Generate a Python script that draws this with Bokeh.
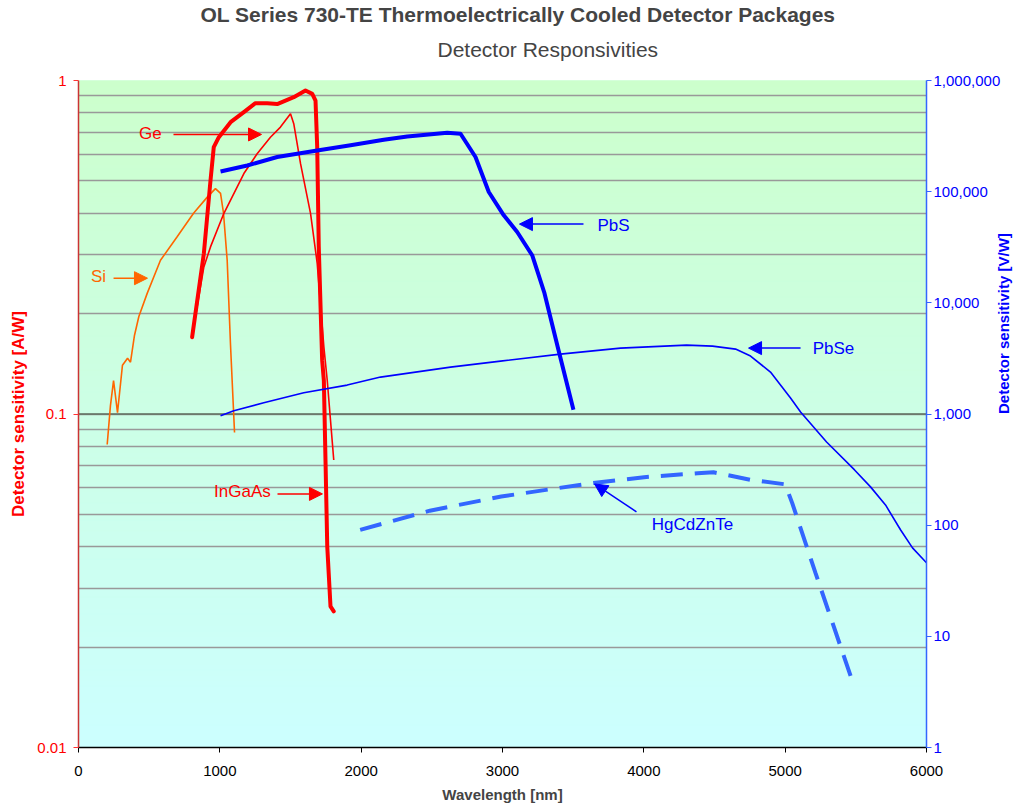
import math
from bokeh.plotting import figure
from bokeh.models import (Range1d, LogScale, LogAxis, FixedTicker, NumeralTickFormatter,
                          Title, Label, Arrow, NormalHead, Span)
from bokeh.embed import file_html
from bokeh.resources import INLINE

# ---------------- data ----------------
x_ticks = [0, 1000, 2000, 3000, 4000, 5000, 6000]
left_ticks = [0.01, 0.1, 1]
left_minor = [0.02, 0.03, 0.04, 0.05, 0.06, 0.07, 0.08, 0.09,
              0.2, 0.3, 0.4, 0.5, 0.6, 0.7, 0.8, 0.9]
right_ticks = [1, 10, 100, 1000, 10000, 100000, 1000000]

# Si (A/W)
si_nm = [203, 226, 248, 276, 311, 347, 368, 396, 427, 486, 580, 698, 814, 911, 969, 1005, 1026, 1052, 1075, 1104]
si_aw = [0.081, 0.106, 0.126, 0.101, 0.140, 0.147, 0.143, 0.172, 0.196, 0.230, 0.289, 0.340, 0.400, 0.447, 0.474, 0.459, 0.400, 0.289, 0.163, 0.088]

# Ge (A/W) thin red
ge_nm = [816, 887, 934, 1028, 1170, 1264, 1358, 1429, 1500, 1523, 1571, 1642, 1689, 1736, 1760, 1806]
ge_aw = [0.183, 0.276, 0.317, 0.399, 0.526, 0.603, 0.676, 0.725, 0.795, 0.742, 0.563, 0.399, 0.283, 0.159, 0.126, 0.0728]

# InGaAs (A/W) thick red
ingaas_nm = [804, 887, 934, 957, 993, 1076, 1170, 1252, 1335, 1406, 1523, 1606, 1654, 1677, 1689, 1700, 1724, 1736, 1748, 1760, 1783, 1806]
ingaas_aw = [0.170, 0.303, 0.502, 0.631, 0.676, 0.750, 0.804, 0.855, 0.855, 0.850, 0.891, 0.933, 0.912, 0.871, 0.631, 0.317, 0.145, 0.126, 0.0714, 0.0401, 0.0265, 0.0256]

# PbS (V/W) thick blue
pbs_nm = [1005, 1194, 1406, 1689, 1925, 2160, 2326, 2609, 2703, 2809, 2903, 3009, 3104, 3210, 3297, 3396, 3502]
pbs_vw = [152000, 172000, 205000, 235000, 261000, 293000, 314000, 339000, 332000, 205000, 99300, 61300, 43400, 26800, 12200, 3760, 1090]

# PbSe (V/W) thin blue
pbse_nm = [1005, 1099, 1311, 1594, 1901, 2137, 2632, 2986, 3410, 3835, 4302, 4486, 4649, 4755, 4896, 5038, 5109, 5293, 5491, 5604, 5710, 5816, 5901, 6000]
pbse_vw = [966, 1070, 1262, 1553, 1820, 2148, 2642, 2992, 3458, 3917, 4168, 4080, 3836, 3320, 2383, 1393, 1042, 560, 314, 221, 152, 91, 62.5, 45.9]

# HgCdZnTe (V/W) dashed
hg_nm = [1993, 2486, 2991, 3623, 4002, 4380, 4493, 4760, 5000, 5050, 5215, 5392, 5480]
hg_vw = [90.8, 135, 181, 238, 270, 293, 299, 255, 233, 158, 37, 8.1, 3.8]

FONT = "Liberation Sans"

p = figure(width=1023, height=805,
           x_range=Range1d(0, 6000), y_range=Range1d(0.01, 1),
           y_axis_type="log", output_backend="svg", toolbar_location=None,
           min_border_left=78, min_border_right=97, min_border_top=80, min_border_bottom=57,
           background_fill_color="#CCFFEE", border_fill_color="white",
           outline_line_color=None)

# gradient background (green at top -> cyan at bottom)
N = 120
bottoms = [10 ** (-2 + 2 * i / N) for i in range(N)]
tops = [10 ** (-2 + 2 * (i + 1) / N) for i in range(N)]
cols = ["#%02x%02x%02x" % (204, 255, round(255 - 51 * (i + 0.5) / N)) for i in range(N)]
p.quad(left=0, right=6000, bottom=bottoms, top=tops, fill_color=cols,
       line_color=cols, line_width=1, level="image")

# grid
yt = FixedTicker(ticks=left_ticks, minor_ticks=left_minor)
p.yaxis.ticker = yt
p.ygrid.ticker = yt
p.ygrid.grid_line_color = "#999999"
p.ygrid.grid_line_width = 1.5
p.ygrid.minor_grid_line_color = "#999999"
p.ygrid.minor_grid_line_width = 1.5
p.xgrid.visible = False
p.add_layout(Span(location=0.1, dimension="width", line_color="#5E6E5E",
                  line_width=1.5, level="underlay"))

# left axis
ya = p.yaxis[0]
ya.formatter = NumeralTickFormatter(format="0.[00]")
ya.axis_line_color = "#CC3333"
ya.axis_line_width = 1.5
ya.major_tick_line_color = "#FF3333"
ya.minor_tick_line_color = None
ya.major_tick_in = 0
ya.major_tick_out = 5
ya.major_label_text_color = "#FF0000"
ya.major_label_text_font = FONT
ya.major_label_text_font_size = "15px"
ya.major_label_standoff = 7
ya.axis_label = "Detector sensitivity [A/W]"
ya.axis_label_text_color = "#FF0000"
ya.axis_label_text_font = FONT
ya.axis_label_text_font_style = "bold"
ya.axis_label_text_font_size = "17px"
ya.axis_label_standoff = 6

# bottom axis
xa = p.xaxis[0]
xa.ticker = FixedTicker(ticks=x_ticks)
xa.axis_line_color = "black"
xa.axis_line_width = 1.5
xa.major_tick_line_color = "black"
xa.minor_tick_line_color = None
xa.major_tick_in = 0
xa.major_tick_out = 5
xa.major_label_text_font = FONT
xa.major_label_text_font_size = "15px"
xa.major_label_text_color = "black"
xa.major_label_standoff = 13
xa.axis_label = "Wavelength [nm]"
xa.axis_label_text_font = FONT
xa.axis_label_text_font_style = "bold"
xa.axis_label_text_font_size = "15px"
xa.axis_label_standoff = 7

# right axis
p.extra_y_ranges = {"vw": Range1d(1, 1000000)}
p.extra_y_scales = {"vw": LogScale()}
ra = LogAxis(y_range_name="vw", ticker=FixedTicker(ticks=right_ticks),
             formatter=NumeralTickFormatter(format="0,0"))
ra.axis_line_color = "#3366FF"
ra.axis_line_width = 1.5
ra.major_tick_line_color = "#3366FF"
ra.minor_tick_line_color = None
ra.major_tick_in = 0
ra.major_tick_out = 5
ra.major_label_text_color = "#0000FF"
ra.major_label_text_font = FONT
ra.major_label_text_font_size = "15px"
ra.major_label_standoff = 2
ra.axis_label = "Detector sensitivity [V/W]"
ra.axis_label_text_color = "#0000FF"
ra.axis_label_text_font = FONT
ra.axis_label_text_font_style = "bold"
ra.axis_label_text_font_size = "15px"
ra.axis_label_standoff = 0
ra.axis_label_text_align = "center"
try:
    ra.axis_label_orientation = math.pi / 2
except Exception:
    pass
p.add_layout(ra, "right")

# curves
p.line(si_nm, si_aw, line_color="#FF6600", line_width=1.6)
p.line(ge_nm, ge_aw, line_color="#FF0000", line_width=1.6)
p.line(ingaas_nm, ingaas_aw, line_color="#FF0000", line_width=4, line_join="round", line_cap="round")
p.line(pbs_nm, pbs_vw, y_range_name="vw", line_color="#0000FF", line_width=4, line_join="round")
p.line(pbse_nm, pbse_vw, y_range_name="vw", line_color="#0000FF", line_width=1.6)
p.line(hg_nm, hg_vw, y_range_name="vw", line_color="#3366FF", line_width=4, line_dash="22 12")

# annotations
def lab(x, y, t, c):
    p.add_layout(Label(x=x, y=y, text=t, text_color=c, text_font=FONT,
                       text_font_size="17px", text_align="center", text_baseline="middle"))

def arr(x0, y0, x1, y1, c):
    p.add_layout(Arrow(end=NormalHead(size=13, fill_color=c, line_color=c),
                       x_start=x0, y_start=y0, x_end=x1, y_end=y1,
                       line_color=c, line_width=1.5))

lab(509, 0.694, "Ge", "#FF0000")
arr(672, 0.689, 1295, 0.689, "#FF0000")
lab(142, 0.259, "Si", "#FF6600")
arr(248, 0.2554, 488, 0.2554, "#FF6600")
lab(1160, 0.0586, "InGaAs", "#FF0000")
arr(1408, 0.0576, 1726, 0.0576, "#FF0000")
lab(3785, 0.368, "PbS", "#0000FF")
arr(3573, 0.371, 3120, 0.371, "#0000FF")
lab(5342, 0.1576, "PbSe", "#0000FF")
arr(5109, 0.1576, 4741, 0.1576, "#0000FF")
lab(4344, 0.0465, "HgCdZnTe", "#0000FF")
arr(3948, 0.0509, 3651, 0.0617, "#0000FF")

# titles (first added is closest to plot)
sub = Title(text="Detector Responsivities", align="left", offset=359,
            text_font=FONT, text_font_size="21px", text_font_style="normal",
            standoff=39)
main = Title(text="OL Series 730-TE Thermoelectrically Cooled Detector Packages",
             align="left", offset=122, text_font=FONT, text_font_size="21px",
             text_font_style="bold", standoff=0)
try:
    main.standoff = -19
except Exception:
    pass
p.add_layout(sub, "above")
p.add_layout(main, "above")

open("out.html", "w").write(file_html(p, INLINE))
